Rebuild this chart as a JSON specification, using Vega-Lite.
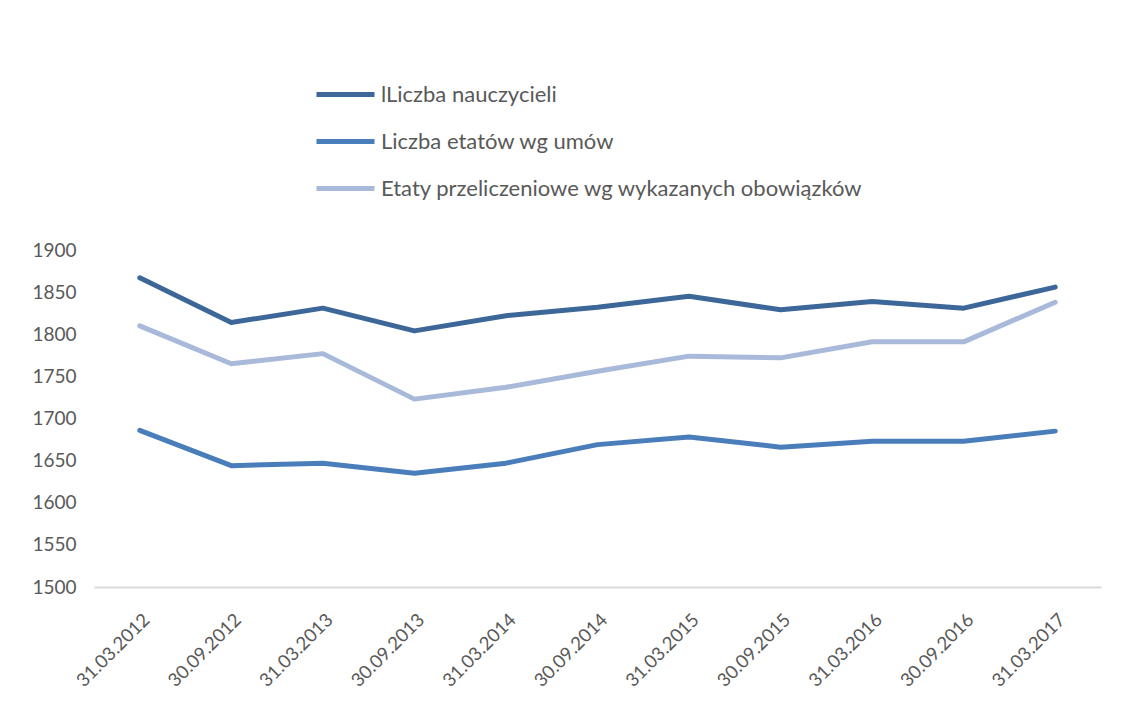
{
  "$schema": "https://vega.github.io/schema/vega-lite/v6.json",
  "autosize": {"type": "none"},
  "width": 1007,
  "height": 337,
  "padding": {"left": 94, "top": 250, "right": 39, "bottom": 140},
  "background": "white",
  "config": {
    "view": {"stroke": null},
    "font": "Lato"
  },
  "data": {
    "values": [
      {"date": "31.03.2012", "series": "lLiczba nauczycieli", "value": 1867},
      {"date": "30.09.2012", "series": "lLiczba nauczycieli", "value": 1814},
      {"date": "31.03.2013", "series": "lLiczba nauczycieli", "value": 1831},
      {"date": "30.09.2013", "series": "lLiczba nauczycieli", "value": 1804},
      {"date": "31.03.2014", "series": "lLiczba nauczycieli", "value": 1822},
      {"date": "30.09.2014", "series": "lLiczba nauczycieli", "value": 1832},
      {"date": "31.03.2015", "series": "lLiczba nauczycieli", "value": 1845},
      {"date": "30.09.2015", "series": "lLiczba nauczycieli", "value": 1829},
      {"date": "31.03.2016", "series": "lLiczba nauczycieli", "value": 1839},
      {"date": "30.09.2016", "series": "lLiczba nauczycieli", "value": 1831},
      {"date": "31.03.2017", "series": "lLiczba nauczycieli", "value": 1856},
      {"date": "31.03.2012", "series": "Liczba etatów wg umów", "value": 1686},
      {"date": "30.09.2012", "series": "Liczba etatów wg umów", "value": 1644},
      {"date": "31.03.2013", "series": "Liczba etatów wg umów", "value": 1647},
      {"date": "30.09.2013", "series": "Liczba etatów wg umów", "value": 1635},
      {"date": "31.03.2014", "series": "Liczba etatów wg umów", "value": 1647},
      {"date": "30.09.2014", "series": "Liczba etatów wg umów", "value": 1669},
      {"date": "31.03.2015", "series": "Liczba etatów wg umów", "value": 1678},
      {"date": "30.09.2015", "series": "Liczba etatów wg umów", "value": 1666},
      {"date": "31.03.2016", "series": "Liczba etatów wg umów", "value": 1673},
      {"date": "30.09.2016", "series": "Liczba etatów wg umów", "value": 1673},
      {"date": "31.03.2017", "series": "Liczba etatów wg umów", "value": 1685},
      {"date": "31.03.2012", "series": "Etaty przeliczeniowe wg wykazanych obowiązków", "value": 1810},
      {"date": "30.09.2012", "series": "Etaty przeliczeniowe wg wykazanych obowiązków", "value": 1765},
      {"date": "31.03.2013", "series": "Etaty przeliczeniowe wg wykazanych obowiązków", "value": 1777},
      {"date": "30.09.2013", "series": "Etaty przeliczeniowe wg wykazanych obowiązków", "value": 1723},
      {"date": "31.03.2014", "series": "Etaty przeliczeniowe wg wykazanych obowiązków", "value": 1737},
      {"date": "30.09.2014", "series": "Etaty przeliczeniowe wg wykazanych obowiązków", "value": 1756},
      {"date": "31.03.2015", "series": "Etaty przeliczeniowe wg wykazanych obowiązków", "value": 1774},
      {"date": "30.09.2015", "series": "Etaty przeliczeniowe wg wykazanych obowiązków", "value": 1772},
      {"date": "31.03.2016", "series": "Etaty przeliczeniowe wg wykazanych obowiązków", "value": 1791},
      {"date": "30.09.2016", "series": "Etaty przeliczeniowe wg wykazanych obowiązków", "value": 1791},
      {"date": "31.03.2017", "series": "Etaty przeliczeniowe wg wykazanych obowiązków", "value": 1838}
    ]
  },
  "mark": {"type": "line", "strokeWidth": 5, "strokeCap": "round", "strokeJoin": "round"},
  "encoding": {
    "x": {
      "field": "date",
      "type": "ordinal",
      "sort": null,
      "scale": {"type": "point", "padding": 0.5},
      "axis": {
        "title": null,
        "labelAngle": -45,
        "labelFontSize": 18.5,
        "labelColor": "#595959",
        "labelPadding": 23,
        "ticks": false,
        "domain": true,
        "domainColor": "#D9D9D9",
        "domainWidth": 2,
        "grid": false
      }
    },
    "y": {
      "field": "value",
      "type": "quantitative",
      "scale": {"domain": [1500, 1900], "zero": false, "nice": false},
      "axis": {
        "title": null,
        "format": "d",
        "values": [1500, 1550, 1600, 1650, 1700, 1750, 1800, 1850, 1900],
        "labelFontSize": 19,
        "labelColor": "#595959",
        "labelPadding": 18,
        "ticks": false,
        "domain": false,
        "grid": false
      }
    },
    "color": {
      "field": "series",
      "type": "nominal",
      "sort": null,
      "scale": {
        "domain": ["lLiczba nauczycieli", "Liczba etatów wg umów", "Etaty przeliczeniowe wg wykazanych obowiązków"],
        "range": ["#3D6799", "#4A7EBB", "#A9B9D9"]
      },
      "legend": {
        "title": null,
        "orient": "none",
        "legendX": 220,
        "legendY": -187,
        "direction": "vertical",
        "symbolType": "stroke",
        "symbolSize": 3364,
        "symbolStrokeWidth": 5,
        "labelFontSize": 22,
        "labelColor": "#595959",
        "labelOffset": 4,
        "rowPadding": 4,
        "labelLimit": 0
      }
    }
  }
}
